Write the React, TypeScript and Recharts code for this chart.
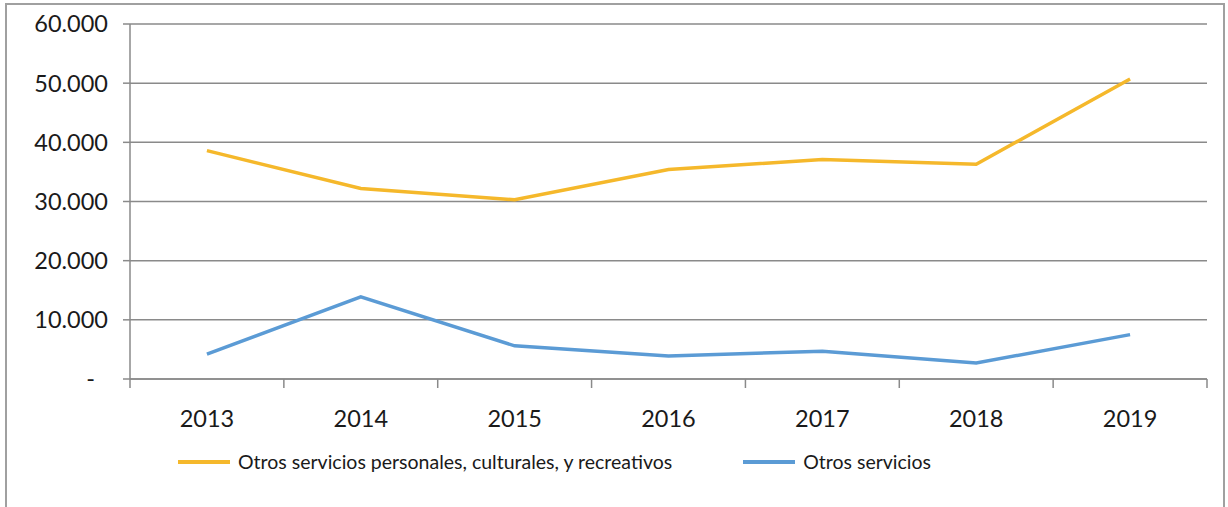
import { LineChart, Line, XAxis, YAxis, CartesianGrid, Legend } from "recharts";

const years = ["2013", "2014", "2015", "2016", "2017", "2018", "2019"];
const personales = [38600, 32200, 30300, 35400, 37100, 36300, 50700];
const otros = [4200, 13900, 5600, 3900, 4700, 2700, 7500];
const yTicks = [0, 10000, 20000, 30000, 40000, 50000, 60000];

const SERIES = [
  { key: "personales", name: "Otros servicios personales, culturales, y recreativos", color: "#F5B82B" },
  { key: "otros", name: "Otros servicios", color: "#5B9BD5" },
];

const data = years.map((y, i) => ({ year: y, personales: personales[i], otros: otros[i] }));

const FONT = "Lato, 'Open Sans', sans-serif";
const AXIS = "#8a8a8a";

const fmt = (v: number) => (v === 0 ? "-" : v.toLocaleString("de-DE"));

const YTick = (props: any) => {
  const { x, y, payload } = props;
  const isZero = payload.value === 0;
  return (
    <text x={isZero ? x - 13 : x} y={y} dy="0.36em" textAnchor="end" fontSize={23.5} fill="#1a1a1a" fontFamily={FONT}>
      {fmt(payload.value)}
    </text>
  );
};

const XTick = (props: any) => {
  const { x, y, payload, index, visibleTicksCount } = props;
  const half = payload.offset ?? 77;
  const last = index === visibleTicksCount - 1;
  return (
    <g>
      <line x1={x - half} x2={x - half} y1={y} y2={y + 9} stroke={AXIS} strokeWidth={1.5} />
      {last && <line x1={x + half} x2={x + half} y1={y} y2={y + 9} stroke={AXIS} strokeWidth={1.5} />}
      <text x={x} y={y + 48} textAnchor="middle" fontSize={23.5} fill="#1a1a1a" fontFamily={FONT}>
        {payload.value}
      </text>
    </g>
  );
};

const LegendContent = () => (
  <div style={{ display: "flex", alignItems: "center", fontFamily: FONT, fontSize: 19.5, color: "#1a1a1a" }}>
    {SERIES.map((s, i) => (
      <div key={s.key} style={{ display: "flex", alignItems: "center", marginLeft: i === 0 ? 178 : 71 }}>
        <div style={{ width: 52, height: 4, background: s.color, marginRight: 8 }} />
        <span>{s.name}</span>
      </div>
    ))}
  </div>
);

export default function App() {
  return (
    <div style={{ position: "absolute", left: 0, top: 0, width: 1228, height: 507, overflow: "hidden", background: "#fff" }}>
      <div
        style={{
          position: "absolute",
          left: 5,
          top: 3,
          width: 1220,
          height: 600,
          border: "2px solid #a0a0a0",
          boxSizing: "border-box",
        }}
      />
      <LineChart width={1228} height={507} data={data} margin={{ top: 24, right: 21, left: 0, bottom: 0 }}>
        <CartesianGrid vertical={false} stroke={AXIS} strokeWidth={1.5} />
        <XAxis
          dataKey="year"
          scale="band"
          height={128}
          axisLine={{ stroke: AXIS, strokeWidth: 1.5 }}
          tickLine={false}
          tickSize={0}
          tickMargin={0}
          tick={<XTick />}
          interval={0}
        />
        <YAxis
          width={130}
          domain={[0, 60000]}
          ticks={yTicks}
          axisLine={{ stroke: AXIS, strokeWidth: 1.5 }}
          tickLine={{ stroke: AXIS, strokeWidth: 1.5 }}
          tickSize={7}
          tickMargin={15}
          tick={<YTick />}
        />
        <Legend
          layout="horizontal"
          verticalAlign="middle"
          wrapperStyle={{ top: 450, left: 0, width: 1228 }}
          content={<LegendContent />}
        />
        {SERIES.map((s) => (
          <Line
            key={s.key}
            dataKey={s.key}
            name={s.name}
            stroke={s.color}
            strokeWidth={3.5}
            dot={false}
            activeDot={false}
            isAnimationActive={false}
          />
        ))}
      </LineChart>
    </div>
  );
}
